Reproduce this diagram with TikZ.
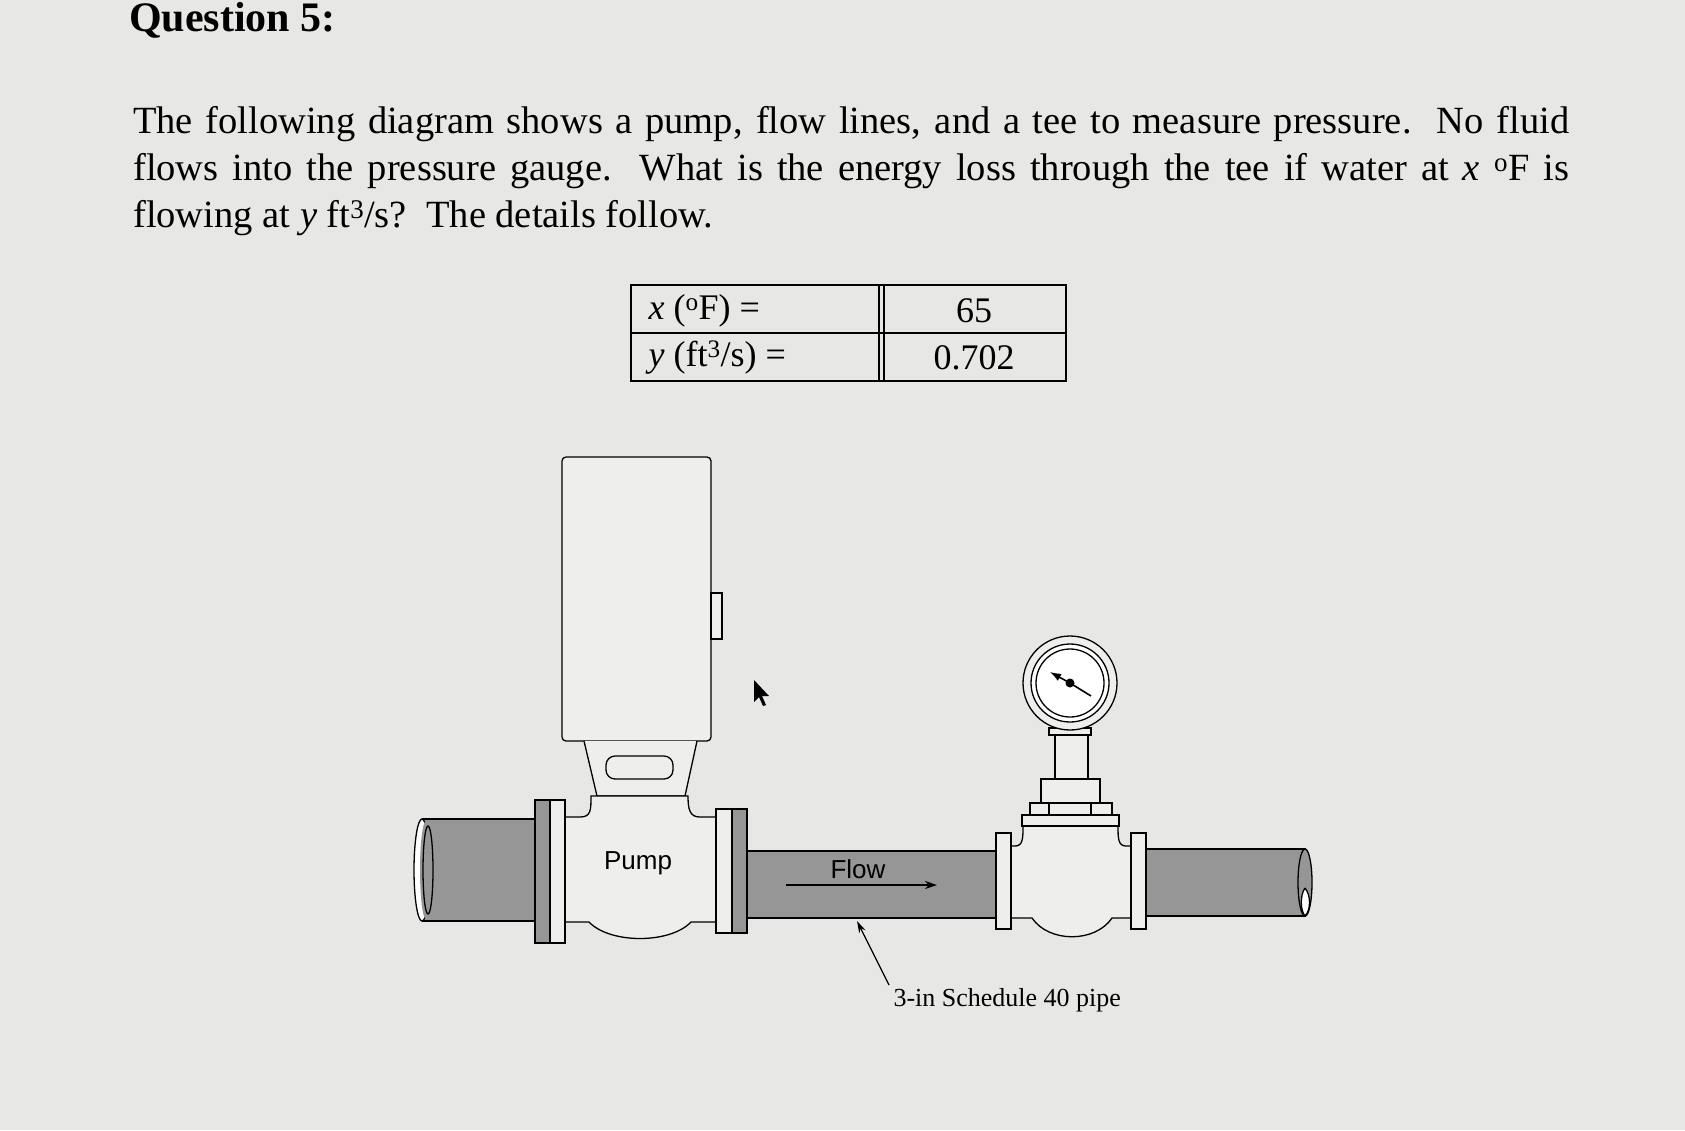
\documentclass[tikz,border=0pt]{standalone}
\usepackage{fontspec}
\usetikzlibrary{arrows.meta}
\setmainfont{Liberation Serif}
\newfontfamily\arialf{Liberation Sans}
\definecolor{bgc}{RGB}{231,231,229}
\definecolor{pipeg}{RGB}{150,150,150}
\definecolor{partw}{RGB}{238,238,236}
\begin{document}
\begin{tikzpicture}[x=1pt,y=-1pt,
  ln/.style={draw=black,line width=1.3pt},
  pipe/.style={ln,fill=pipeg},
  part/.style={ln,fill=partw},
  body/.style={font=\fontsize{38.5}{47}\selectfont},
  cell/.style={font=\fontsize{36}{40}\selectfont}]
\fill[bgc] (0,0) rectangle (1685,1130);
\useasboundingbox (0,0) rectangle (1685,1130);
% header
\node[anchor=north west,inner sep=0,font=\fontsize{42}{46}\selectfont\bfseries] (q) at (129,2) {Question 5:};
\node[anchor=north west,inner sep=0,body,text width=1436pt,align=justify] (t) at (133,106)
{The following diagram shows a pump, flow lines, and a tee to measure pressure.\ \ No fluid\linebreak
flows into the pressure gauge.\ \ What is the energy loss through the tee if water at \textit{x} \textsuperscript{o}F is\linebreak
flowing at \textit{y} ft\textsuperscript{3}/s?\ \ The details follow.};
% table
\draw[line width=1.6pt] (631,285) rectangle (1066,381);
\draw[line width=1.3pt] (631,333) -- (1066,333);
\draw[line width=1.3pt] (879,285) -- (879,381) (884,285) -- (884,381);
\node[cell,anchor=west] (c1) at (645,311) {\textit{x} (\textsuperscript{o}F) =};
\node[cell,anchor=west] (c2) at (645,358) {\textit{y} (ft\textsuperscript{3}/s) =};
\node[cell] (c3) at (974,311) {65};
\node[cell] (c4) at (974,358) {0.702};
% left pipe
\fill[pipeg] (422,819) rectangle (536,921);
\draw[ln] (422,819) -- (536,819) (422,921) -- (536,921);
\draw[ln,fill=white] (422,870) ellipse[x radius=8,y radius=51];
\fill[pipeg] (426,870) ellipse[x radius=6,y radius=49];
\draw[ln,fill=pipeg] (428,870) ellipse[x radius=5,y radius=44];
% middle pipe
\path[pipe] (747,851) rectangle (996,918);
% right pipe
\path[pipe] (1146,849) -- (1305,849) -- (1305,916) -- (1146,916);
\draw[ln,fill=pipeg] (1305,882.5) ellipse[x radius=7,y radius=33.5];
\path[ln,fill=white] (1305,888) .. controls (1311,895) and (1311,910) .. (1305,916) .. controls (1300,910) and (1300,895) .. (1305,888);
% motor
\draw[part,rounded corners=4pt] (562,457) rectangle (711,741);
\draw[part] (711,593) rectangle (722,639);
\draw[part] (584,741) -- (597,796) -- (685,796) -- (697,741);
\draw[part,rounded corners=9pt] (606,756) rectangle (673,779);
% pump body
\path[part] (565,817) -- (580,817) .. controls (591,817) and (591,810) .. (591,796) -- (688,796) .. controls (688,810) and (690,817) .. (700,817) -- (716,817) -- (716,922) -- (691,922) .. controls (670,944) and (610,944) .. (589,922) -- (565,922) -- cycle;
\node[font=\arialf\fontsize{26}{28}\selectfont] (pump) at (638,863) {Pump};
% flanges
\draw[ln,fill=pipeg] (535,800) rectangle (550,943);
\draw[part] (550,800) rectangle (565,943);
\draw[part] (716,809) rectangle (732,933);
\draw[ln,fill=pipeg] (732,809) rectangle (747,933);
% tee
\path[part] (1011,846) -- (1015,846) .. controls (1023,846) and (1023,838) .. (1023,826) -- (1118,826) .. controls (1118,838) and (1118,846) .. (1126,846) -- (1131,846) -- (1131,918) -- (1112,918) .. controls (1095,943) and (1049,943) .. (1032,918) -- (1011,918) -- cycle;
\draw[part] (996,833) rectangle (1011,929);
\draw[part] (1131,833) rectangle (1146,929);
% gauge stack
\draw[part] (1022,815) rectangle (1119,826);
\draw[part] (1030,803) rectangle (1112,815);
\draw[ln] (1049,803) -- (1049,815) (1091,803) -- (1091,815);
\draw[part] (1041,779) rectangle (1100,803);
\draw[part] (1055,735) rectangle (1088,779);
\draw[part] (1049,728) rectangle (1091,735);
\draw[part] (1070,683) circle[radius=47];
\draw[ln,fill=white] (1070,683) circle[radius=39];
\draw[ln] (1070,683) circle[radius=34];
\draw[line width=1.6pt,-{Latex[length=11pt,width=8pt]}] (1070,683) -- (1050,672);
\draw[line width=1.6pt] (1070,683) -- (1091,696);
\fill (1070,683) circle[radius=4.5];
% flow
\node[font=\arialf\fontsize{26}{28}\selectfont] (flow) at (858,869) {Flow};
\coordinate (fa) at (786,885); \coordinate (fb) at (937,885);
\draw[line width=1.5pt,-{Stealth[length=12pt,width=8pt]}] (fa) -- (fb);
% leader
\node[font=\fontsize{26}{28}\selectfont,anchor=west] (lab) at (890,1000) {3-in Schedule 40 pipe};
\coordinate (la) at (889,985); \coordinate (lb) at (857,921);
\draw[line width=1.2pt,-{Stealth[length=12pt,width=7pt]}] (la) -- (lb);
% cursor
\fill[black] (754,680) -- (754,702) -- (759,697) -- (763,706) -- (766,705) -- (762,696) -- (769,696) -- cycle;
\end{tikzpicture}
\end{document}
